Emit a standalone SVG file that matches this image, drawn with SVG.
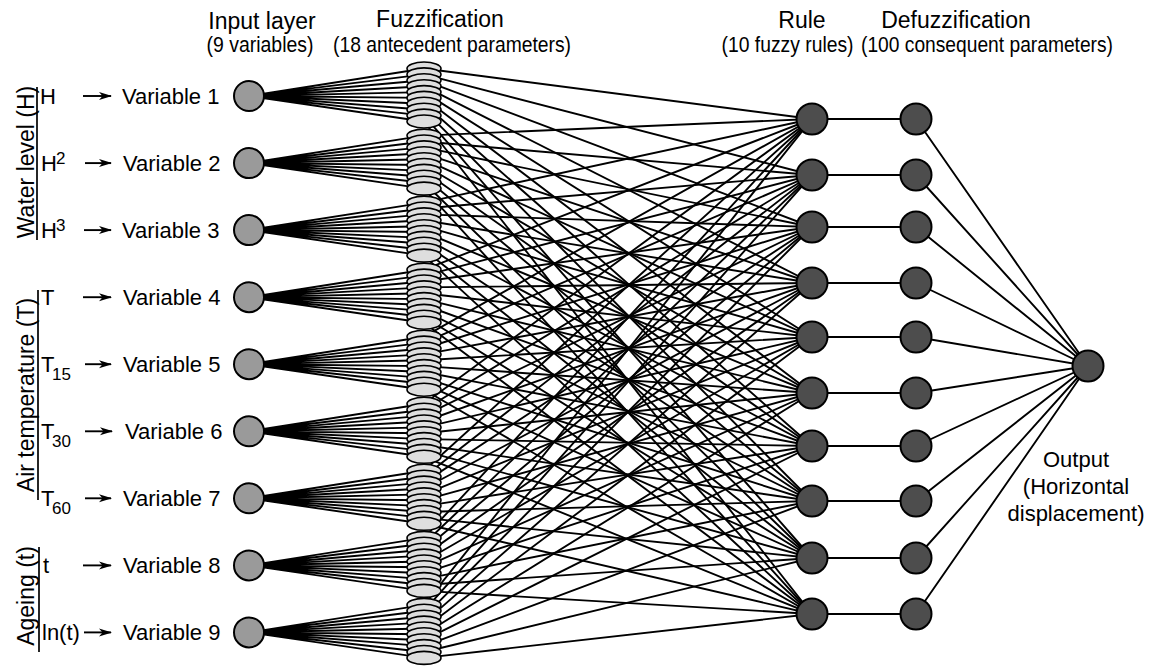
<svg xmlns="http://www.w3.org/2000/svg" xmlns:xlink="http://www.w3.org/1999/xlink" width="1153" height="667" viewBox="0 0 1153 667">
<style>
text{font-family:"Liberation Sans",Arial,sans-serif;fill:#000}
.t{font-size:23px;text-anchor:middle}
.s{font-size:22px;text-anchor:middle}
.v{font-size:22px}
.sm{font-size:17px}
.c{stroke:#000;stroke-width:1.9;fill:none}
.br{stroke:#000;stroke-width:1.7}
.in{fill:#9a9a9a;stroke:#000;stroke-width:2}
.dk{fill:#4d4d4d;stroke:#000;stroke-width:2}
.mf{fill:#dedede;stroke:#000;stroke-width:1.6}
.ar{stroke:#000;stroke-width:1.9}
</style>
<defs>
<ellipse id="e" cx="424" cy="0" rx="17" ry="6.5"/>
<marker id="ah" markerUnits="userSpaceOnUse" markerWidth="14" markerHeight="10" refX="12" refY="4" orient="auto" viewBox="0 0 14 8">
<path d="M0,0L13,4L0,8L3.5,4z" fill="#000"/>
</marker>
</defs>

<g id="connectors">
<path class="c" d="M249 96L424 68.5M249 96L424 74.4M249 96L424 80.3M249 96L424 86.2M249 96L424 92.1M249 96L424 97.9M249 96L424 103.8M249 96L424 109.7M249 96L424 115.6M249 96L424 121.5"/>
<path class="c" d="M249 163.1L424 135.6M249 163.1L424 141.5M249 163.1L424 147.4M249 163.1L424 153.3M249 163.1L424 159.2M249 163.1L424 165M249 163.1L424 170.9M249 163.1L424 176.8M249 163.1L424 182.7M249 163.1L424 188.6"/>
<path class="c" d="M249 230.1L424 202.6M249 230.1L424 208.5M249 230.1L424 214.4M249 230.1L424 220.3M249 230.1L424 226.2M249 230.1L424 232M249 230.1L424 237.9M249 230.1L424 243.8M249 230.1L424 249.7M249 230.1L424 255.6"/>
<path class="c" d="M249 297.2L424 269.7M249 297.2L424 275.6M249 297.2L424 281.5M249 297.2L424 287.4M249 297.2L424 293.3M249 297.2L424 299.1M249 297.2L424 305M249 297.2L424 310.9M249 297.2L424 316.8M249 297.2L424 322.7"/>
<path class="c" d="M249 364.2L424 336.7M249 364.2L424 342.6M249 364.2L424 348.5M249 364.2L424 354.4M249 364.2L424 360.3M249 364.2L424 366.1M249 364.2L424 372M249 364.2L424 377.9M249 364.2L424 383.8M249 364.2L424 389.7"/>
<path class="c" d="M249 431.3L424 403.8M249 431.3L424 409.7M249 431.3L424 415.6M249 431.3L424 421.5M249 431.3L424 427.4M249 431.3L424 433.2M249 431.3L424 439.1M249 431.3L424 445M249 431.3L424 450.9M249 431.3L424 456.8"/>
<path class="c" d="M249 498.3L424 470.8M249 498.3L424 476.7M249 498.3L424 482.6M249 498.3L424 488.5M249 498.3L424 494.4M249 498.3L424 500.2M249 498.3L424 506.1M249 498.3L424 512M249 498.3L424 517.9M249 498.3L424 523.8"/>
<path class="c" d="M249 565.4L424 537.9M249 565.4L424 543.8M249 565.4L424 549.7M249 565.4L424 555.6M249 565.4L424 561.5M249 565.4L424 567.3M249 565.4L424 573.2M249 565.4L424 579.1M249 565.4L424 585M249 565.4L424 590.9"/>
<path class="c" d="M249 632.4L424 604.9M249 632.4L424 610.8M249 632.4L424 616.7M249 632.4L424 622.6M249 632.4L424 628.5M249 632.4L424 634.3M249 632.4L424 640.2M249 632.4L424 646.1M249 632.4L424 652M249 632.4L424 657.9"/>

<path class="c" d="M424 68.5L812 119M424 74.4L812 175M424 80.3L812 227M424 86.2L812 283M424 92.1L812 337M424 97.9L812 393M424 103.8L812 446M424 109.7L812 501M424 115.6L812 558M424 121.5L812 614"/>
<path class="c" d="M424 135.6L812 119M424 141.5L812 175M424 147.4L812 227M424 153.3L812 283M424 159.2L812 337M424 165L812 393M424 170.9L812 446M424 176.8L812 501M424 182.7L812 558M424 188.6L812 614"/>
<path class="c" d="M424 202.6L812 119M424 208.5L812 175M424 214.4L812 227M424 220.3L812 283M424 226.2L812 337M424 232L812 393M424 237.9L812 446M424 243.8L812 501M424 249.7L812 558M424 255.6L812 614"/>
<path class="c" d="M424 269.7L812 119M424 275.6L812 175M424 281.5L812 227M424 287.4L812 283M424 293.3L812 337M424 299.1L812 393M424 305L812 446M424 310.9L812 501M424 316.8L812 558M424 322.7L812 614"/>
<path class="c" d="M424 336.7L812 119M424 342.6L812 175M424 348.5L812 227M424 354.4L812 283M424 360.3L812 337M424 366.1L812 393M424 372L812 446M424 377.9L812 501M424 383.8L812 558M424 389.7L812 614"/>
<path class="c" d="M424 403.8L812 119M424 409.7L812 175M424 415.6L812 227M424 421.5L812 283M424 427.4L812 337M424 433.2L812 393M424 439.1L812 446M424 445L812 501M424 450.9L812 558M424 456.8L812 614"/>
<path class="c" d="M424 470.8L812 119M424 476.7L812 175M424 482.6L812 227M424 488.5L812 283M424 494.4L812 337M424 500.2L812 393M424 506.1L812 446M424 512L812 501M424 517.9L812 558M424 523.8L812 614"/>
<path class="c" d="M424 537.9L812 119M424 543.8L812 175M424 549.7L812 227M424 555.6L812 283M424 561.5L812 337M424 567.3L812 393M424 573.2L812 446M424 579.1L812 501M424 585L812 558M424 590.9L812 614"/>
<path class="c" d="M424 604.9L812 119M424 610.8L812 175M424 616.7L812 227M424 622.6L812 283M424 628.5L812 337M424 634.3L812 393M424 640.2L812 446M424 646.1L812 501M424 652L812 558M424 657.9L812 614"/>

<path class="c" d="M812 119H916M812 175H916M812 227H916M812 283H916M812 337H916M812 393H916M812 446H916M812 501H916M812 558H916M812 614H916"/>
<path class="c" d="M916 119L1088 366M916 175L1088 366M916 227L1088 366M916 283L1088 366M916 337L1088 366M916 393L1088 366M916 446L1088 366M916 501L1088 366M916 558L1088 366M916 614L1088 366"/>

<line class="ar" x1="83" y1="96" x2="111" y2="96" marker-end="url(#ah)"/>
<line class="ar" x1="85" y1="163.1" x2="111" y2="163.1" marker-end="url(#ah)"/>
<line class="ar" x1="84" y1="230.1" x2="111" y2="230.1" marker-end="url(#ah)"/>
<line class="ar" x1="83" y1="297.2" x2="111" y2="297.2" marker-end="url(#ah)"/>
<line class="ar" x1="85" y1="364.2" x2="111" y2="364.2" marker-end="url(#ah)"/>
<line class="ar" x1="85" y1="431.3" x2="112" y2="431.3" marker-end="url(#ah)"/>
<line class="ar" x1="85" y1="498.3" x2="111" y2="498.3" marker-end="url(#ah)"/>
<line class="ar" x1="83" y1="565.4" x2="111" y2="565.4" marker-end="url(#ah)"/>
<line class="ar" x1="84" y1="632.4" x2="111" y2="632.4" marker-end="url(#ah)"/>
</g>

<g id="fuzzification">
<g id="mf-1" class="mf"><use xlink:href="#e" y="68.5"/><use xlink:href="#e" y="74.4"/><use xlink:href="#e" y="80.3"/><use xlink:href="#e" y="86.2"/><use xlink:href="#e" y="92.1"/><use xlink:href="#e" y="97.9"/><use xlink:href="#e" y="103.8"/><use xlink:href="#e" y="109.7"/><use xlink:href="#e" y="115.6"/><use xlink:href="#e" y="121.5"/></g>
<g id="mf-2" class="mf"><use xlink:href="#e" y="135.6"/><use xlink:href="#e" y="141.5"/><use xlink:href="#e" y="147.4"/><use xlink:href="#e" y="153.3"/><use xlink:href="#e" y="159.2"/><use xlink:href="#e" y="165"/><use xlink:href="#e" y="170.9"/><use xlink:href="#e" y="176.8"/><use xlink:href="#e" y="182.7"/><use xlink:href="#e" y="188.6"/></g>
<g id="mf-3" class="mf"><use xlink:href="#e" y="202.6"/><use xlink:href="#e" y="208.5"/><use xlink:href="#e" y="214.4"/><use xlink:href="#e" y="220.3"/><use xlink:href="#e" y="226.2"/><use xlink:href="#e" y="232"/><use xlink:href="#e" y="237.9"/><use xlink:href="#e" y="243.8"/><use xlink:href="#e" y="249.7"/><use xlink:href="#e" y="255.6"/></g>
<g id="mf-4" class="mf"><use xlink:href="#e" y="269.7"/><use xlink:href="#e" y="275.6"/><use xlink:href="#e" y="281.5"/><use xlink:href="#e" y="287.4"/><use xlink:href="#e" y="293.3"/><use xlink:href="#e" y="299.1"/><use xlink:href="#e" y="305"/><use xlink:href="#e" y="310.9"/><use xlink:href="#e" y="316.8"/><use xlink:href="#e" y="322.7"/></g>
<g id="mf-5" class="mf"><use xlink:href="#e" y="336.7"/><use xlink:href="#e" y="342.6"/><use xlink:href="#e" y="348.5"/><use xlink:href="#e" y="354.4"/><use xlink:href="#e" y="360.3"/><use xlink:href="#e" y="366.1"/><use xlink:href="#e" y="372"/><use xlink:href="#e" y="377.9"/><use xlink:href="#e" y="383.8"/><use xlink:href="#e" y="389.7"/></g>
<g id="mf-6" class="mf"><use xlink:href="#e" y="403.8"/><use xlink:href="#e" y="409.7"/><use xlink:href="#e" y="415.6"/><use xlink:href="#e" y="421.5"/><use xlink:href="#e" y="427.4"/><use xlink:href="#e" y="433.2"/><use xlink:href="#e" y="439.1"/><use xlink:href="#e" y="445"/><use xlink:href="#e" y="450.9"/><use xlink:href="#e" y="456.8"/></g>
<g id="mf-7" class="mf"><use xlink:href="#e" y="470.8"/><use xlink:href="#e" y="476.7"/><use xlink:href="#e" y="482.6"/><use xlink:href="#e" y="488.5"/><use xlink:href="#e" y="494.4"/><use xlink:href="#e" y="500.2"/><use xlink:href="#e" y="506.1"/><use xlink:href="#e" y="512"/><use xlink:href="#e" y="517.9"/><use xlink:href="#e" y="523.8"/></g>
<g id="mf-8" class="mf"><use xlink:href="#e" y="537.9"/><use xlink:href="#e" y="543.8"/><use xlink:href="#e" y="549.7"/><use xlink:href="#e" y="555.6"/><use xlink:href="#e" y="561.5"/><use xlink:href="#e" y="567.3"/><use xlink:href="#e" y="573.2"/><use xlink:href="#e" y="579.1"/><use xlink:href="#e" y="585"/><use xlink:href="#e" y="590.9"/></g>
<g id="mf-9" class="mf"><use xlink:href="#e" y="604.9"/><use xlink:href="#e" y="610.8"/><use xlink:href="#e" y="616.7"/><use xlink:href="#e" y="622.6"/><use xlink:href="#e" y="628.5"/><use xlink:href="#e" y="634.3"/><use xlink:href="#e" y="640.2"/><use xlink:href="#e" y="646.1"/><use xlink:href="#e" y="652"/><use xlink:href="#e" y="657.9"/></g>
</g>

<g id="inputs">
<g id="input-1"><circle class="in" cx="249" cy="96" r="15"/><text class="v" x="122" y="104">Variable 1</text></g>
<g id="input-2"><circle class="in" cx="249" cy="163.1" r="15"/><text class="v" x="123" y="171">Variable 2</text></g>
<g id="input-3"><circle class="in" cx="249" cy="230.1" r="15"/><text class="v" x="122" y="238">Variable 3</text></g>
<g id="input-4"><circle class="in" cx="249" cy="297.2" r="15"/><text class="v" x="123" y="305">Variable 4</text></g>
<g id="input-5"><circle class="in" cx="249" cy="364.2" r="15"/><text class="v" x="123" y="372">Variable 5</text></g>
<g id="input-6"><circle class="in" cx="249" cy="431.3" r="15"/><text class="v" x="125" y="439">Variable 6</text></g>
<g id="input-7"><circle class="in" cx="249" cy="498.3" r="15"/><text class="v" x="123" y="506">Variable 7</text></g>
<g id="input-8"><circle class="in" cx="249" cy="565.4" r="15"/><text class="v" x="123" y="573">Variable 8</text></g>
<g id="input-9"><circle class="in" cx="249" cy="632.4" r="15"/><text class="v" x="123" y="640">Variable 9</text></g>
</g>

<g id="rules">
<circle id="rule-1" class="dk" cx="812" cy="119" r="15.5"/>
<circle id="rule-2" class="dk" cx="812" cy="175" r="15.5"/>
<circle id="rule-3" class="dk" cx="812" cy="227" r="15.5"/>
<circle id="rule-4" class="dk" cx="812" cy="283" r="15.5"/>
<circle id="rule-5" class="dk" cx="812" cy="337" r="15.5"/>
<circle id="rule-6" class="dk" cx="812" cy="393" r="15.5"/>
<circle id="rule-7" class="dk" cx="812" cy="446" r="15.5"/>
<circle id="rule-8" class="dk" cx="812" cy="501" r="15.5"/>
<circle id="rule-9" class="dk" cx="812" cy="558" r="15.5"/>
<circle id="rule-10" class="dk" cx="812" cy="614" r="15.5"/>
</g>
<g id="defuzzification">
<circle id="defuzz-1" class="dk" cx="916" cy="119" r="15.5"/>
<circle id="defuzz-2" class="dk" cx="916" cy="175" r="15.5"/>
<circle id="defuzz-3" class="dk" cx="916" cy="227" r="15.5"/>
<circle id="defuzz-4" class="dk" cx="916" cy="283" r="15.5"/>
<circle id="defuzz-5" class="dk" cx="916" cy="337" r="15.5"/>
<circle id="defuzz-6" class="dk" cx="916" cy="393" r="15.5"/>
<circle id="defuzz-7" class="dk" cx="916" cy="446" r="15.5"/>
<circle id="defuzz-8" class="dk" cx="916" cy="501" r="15.5"/>
<circle id="defuzz-9" class="dk" cx="916" cy="558" r="15.5"/>
<circle id="defuzz-10" class="dk" cx="916" cy="614" r="15.5"/>
</g>
<g id="output">
<circle class="dk" cx="1088" cy="366" r="15.5"/>
<text class="s" x="1076" y="467">Output</text>
<text class="s" x="1076" y="494">(Horizontal</text>
<text class="s" x="1076" y="521">displacement)</text>
</g>

<g id="headers">
<text class="t" x="262" y="29">Input layer</text>
<text class="s" x="260" y="52" textLength="107" lengthAdjust="spacingAndGlyphs">(9 variables)</text>
<text class="t" x="440" y="27">Fuzzification</text>
<text class="s" x="452" y="52" textLength="238" lengthAdjust="spacingAndGlyphs">(18 antecedent parameters)</text>
<text class="t" x="802" y="28">Rule</text>
<text class="s" x="787.5" y="52" textLength="132" lengthAdjust="spacingAndGlyphs">(10 fuzzy rules)</text>
<text class="t" x="956" y="28">Defuzzification</text>
<text class="s" x="987" y="52" textLength="252" lengthAdjust="spacingAndGlyphs">(100 consequent parameters)</text>
</g>

<g id="groups">
<line class="br" x1="37" y1="87" x2="37" y2="240"/>
<text class="t" transform="translate(33.5,162) rotate(-90)">Water level (H)</text>
<text class="v" x="40" y="104">H</text>
<text class="v" x="41" y="171">H</text><text class="sm" x="56" y="164">2</text>
<text class="v" x="41" y="238">H</text><text class="sm" x="56" y="231">3</text>

<line class="br" x1="38" y1="290" x2="38" y2="500"/>
<text class="t" transform="translate(33.5,395) rotate(-90)">Air temperature (T)</text>
<text class="v" x="41" y="305">T</text>
<text class="v" x="41" y="372">T</text><text class="sm" x="52" y="380">15</text>
<text class="v" x="41" y="439">T</text><text class="sm" x="52" y="447">30</text>
<text class="v" x="41" y="506">T</text><text class="sm" x="52" y="514">60</text>

<line class="br" x1="39" y1="547" x2="39" y2="652"/>
<text class="t" transform="translate(33.5,596) rotate(-90)">Ageing (t)</text>
<text class="v" x="43" y="573">t</text>
<text class="v" x="42" y="640">ln(t)</text>
</g>
</svg>
